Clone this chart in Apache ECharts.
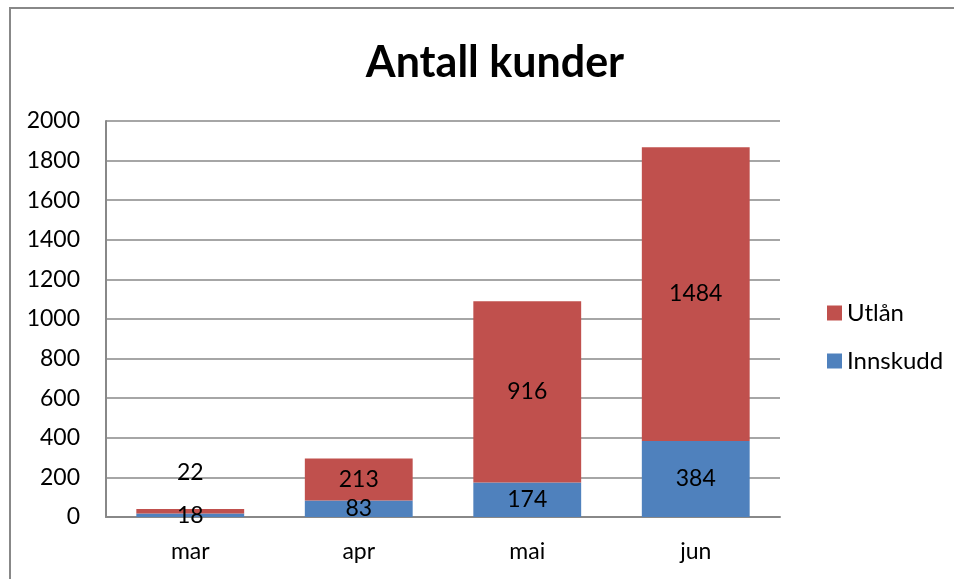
<!DOCTYPE html>
<html>
<head>
	<meta charset="utf-8">
	<title>Antall kunder</title>
	<script type="text/javascript" src="https://cdn.jsdelivr.net/npm/echarts@6.0.0/dist/echarts.min.js"></script>
	<style>
		html, body { margin: 0; padding: 0; background: #fff; }
	</style>
</head>
<body>
	<div id="chart" style="width: 954px;height:579px;"></div>
	<script type="text/javascript">
		const months = ['mar', 'apr', 'mai', 'jun'];
		const innskudd = [18, 83, 174, 384];
		const utlan = [22, 213, 916, 1484];
		const yTicks = [0, 200, 400, 600, 800, 1000, 1200, 1400, 1600, 1800, 2000];

		const font = 'Lato, "Open Sans", sans-serif';

		// the small "22" on mar sits above its bar
		const utlanData = utlan.map(function (v, i) {
			if (i === 0) {
				return { value: v, label: { position: 'top', distance: 25 } };
			}
			return v;
		});

		const myChart = echarts.init(document.getElementById('chart'));
		myChart.setOption({
			animation: false,
			title: {
				text: 'Antall kunder',
				left: 490,
				top: 37,
				textAlign: 'center',
				textStyle: { fontFamily: font, fontSize: 43, fontWeight: 'bold', color: '#000' }
			},
			graphic: [{
				type: 'rect',
				shape: { x: 10, y: 8, width: 1000, height: 600 },
				style: { fill: 'none', stroke: '#888', lineWidth: 2 },
				silent: true
			}],
			legend: {
				orient: 'vertical',
				left: 822,
				top: 296,
				icon: 'rect',
				itemWidth: 15,
				itemHeight: 15,
				itemGap: 24,
				data: ['Utlån', 'Innskudd'],
				textStyle: { fontFamily: font, fontSize: 24, color: '#000' }
			},
			grid: { left: 106, right: 174, top: 121, bottom: 62, containLabel: false },
			xAxis: {
				type: 'category',
				data: months,
				axisTick: { show: false },
				axisLine: { lineStyle: { color: '#888', width: 2 } },
				axisLabel: { fontFamily: font, fontSize: 23, color: '#000', margin: 23 }
			},
			yAxis: {
				type: 'value',
				min: yTicks[0],
				max: yTicks[yTicks.length - 1],
				interval: 200,
				axisLine: { show: true, lineStyle: { color: '#888', width: 2 } },
				axisTick: { show: false },
				splitLine: { lineStyle: { color: '#888', width: 1.5 } },
				axisLabel: {
					fontFamily: font, fontSize: 23, color: '#000', margin: 26,
					formatter: function (value) { return String(value); }
				}
			},
			series: [
				{
					name: 'Innskudd',
					type: 'bar',
					stack: 'k',
					barWidth: '64%',
					data: innskudd,
					itemStyle: { color: '#4F81BD' },
					label: { show: true, position: 'inside', fontFamily: font, fontSize: 23, color: '#000' }
				},
				{
					name: 'Utlån',
					type: 'bar',
					stack: 'k',
					data: utlanData,
					itemStyle: { color: '#C0504D' },
					label: { show: true, position: 'inside', fontFamily: font, fontSize: 23, color: '#000' }
				}
			]
		});
	</script>
</body>
</html>
